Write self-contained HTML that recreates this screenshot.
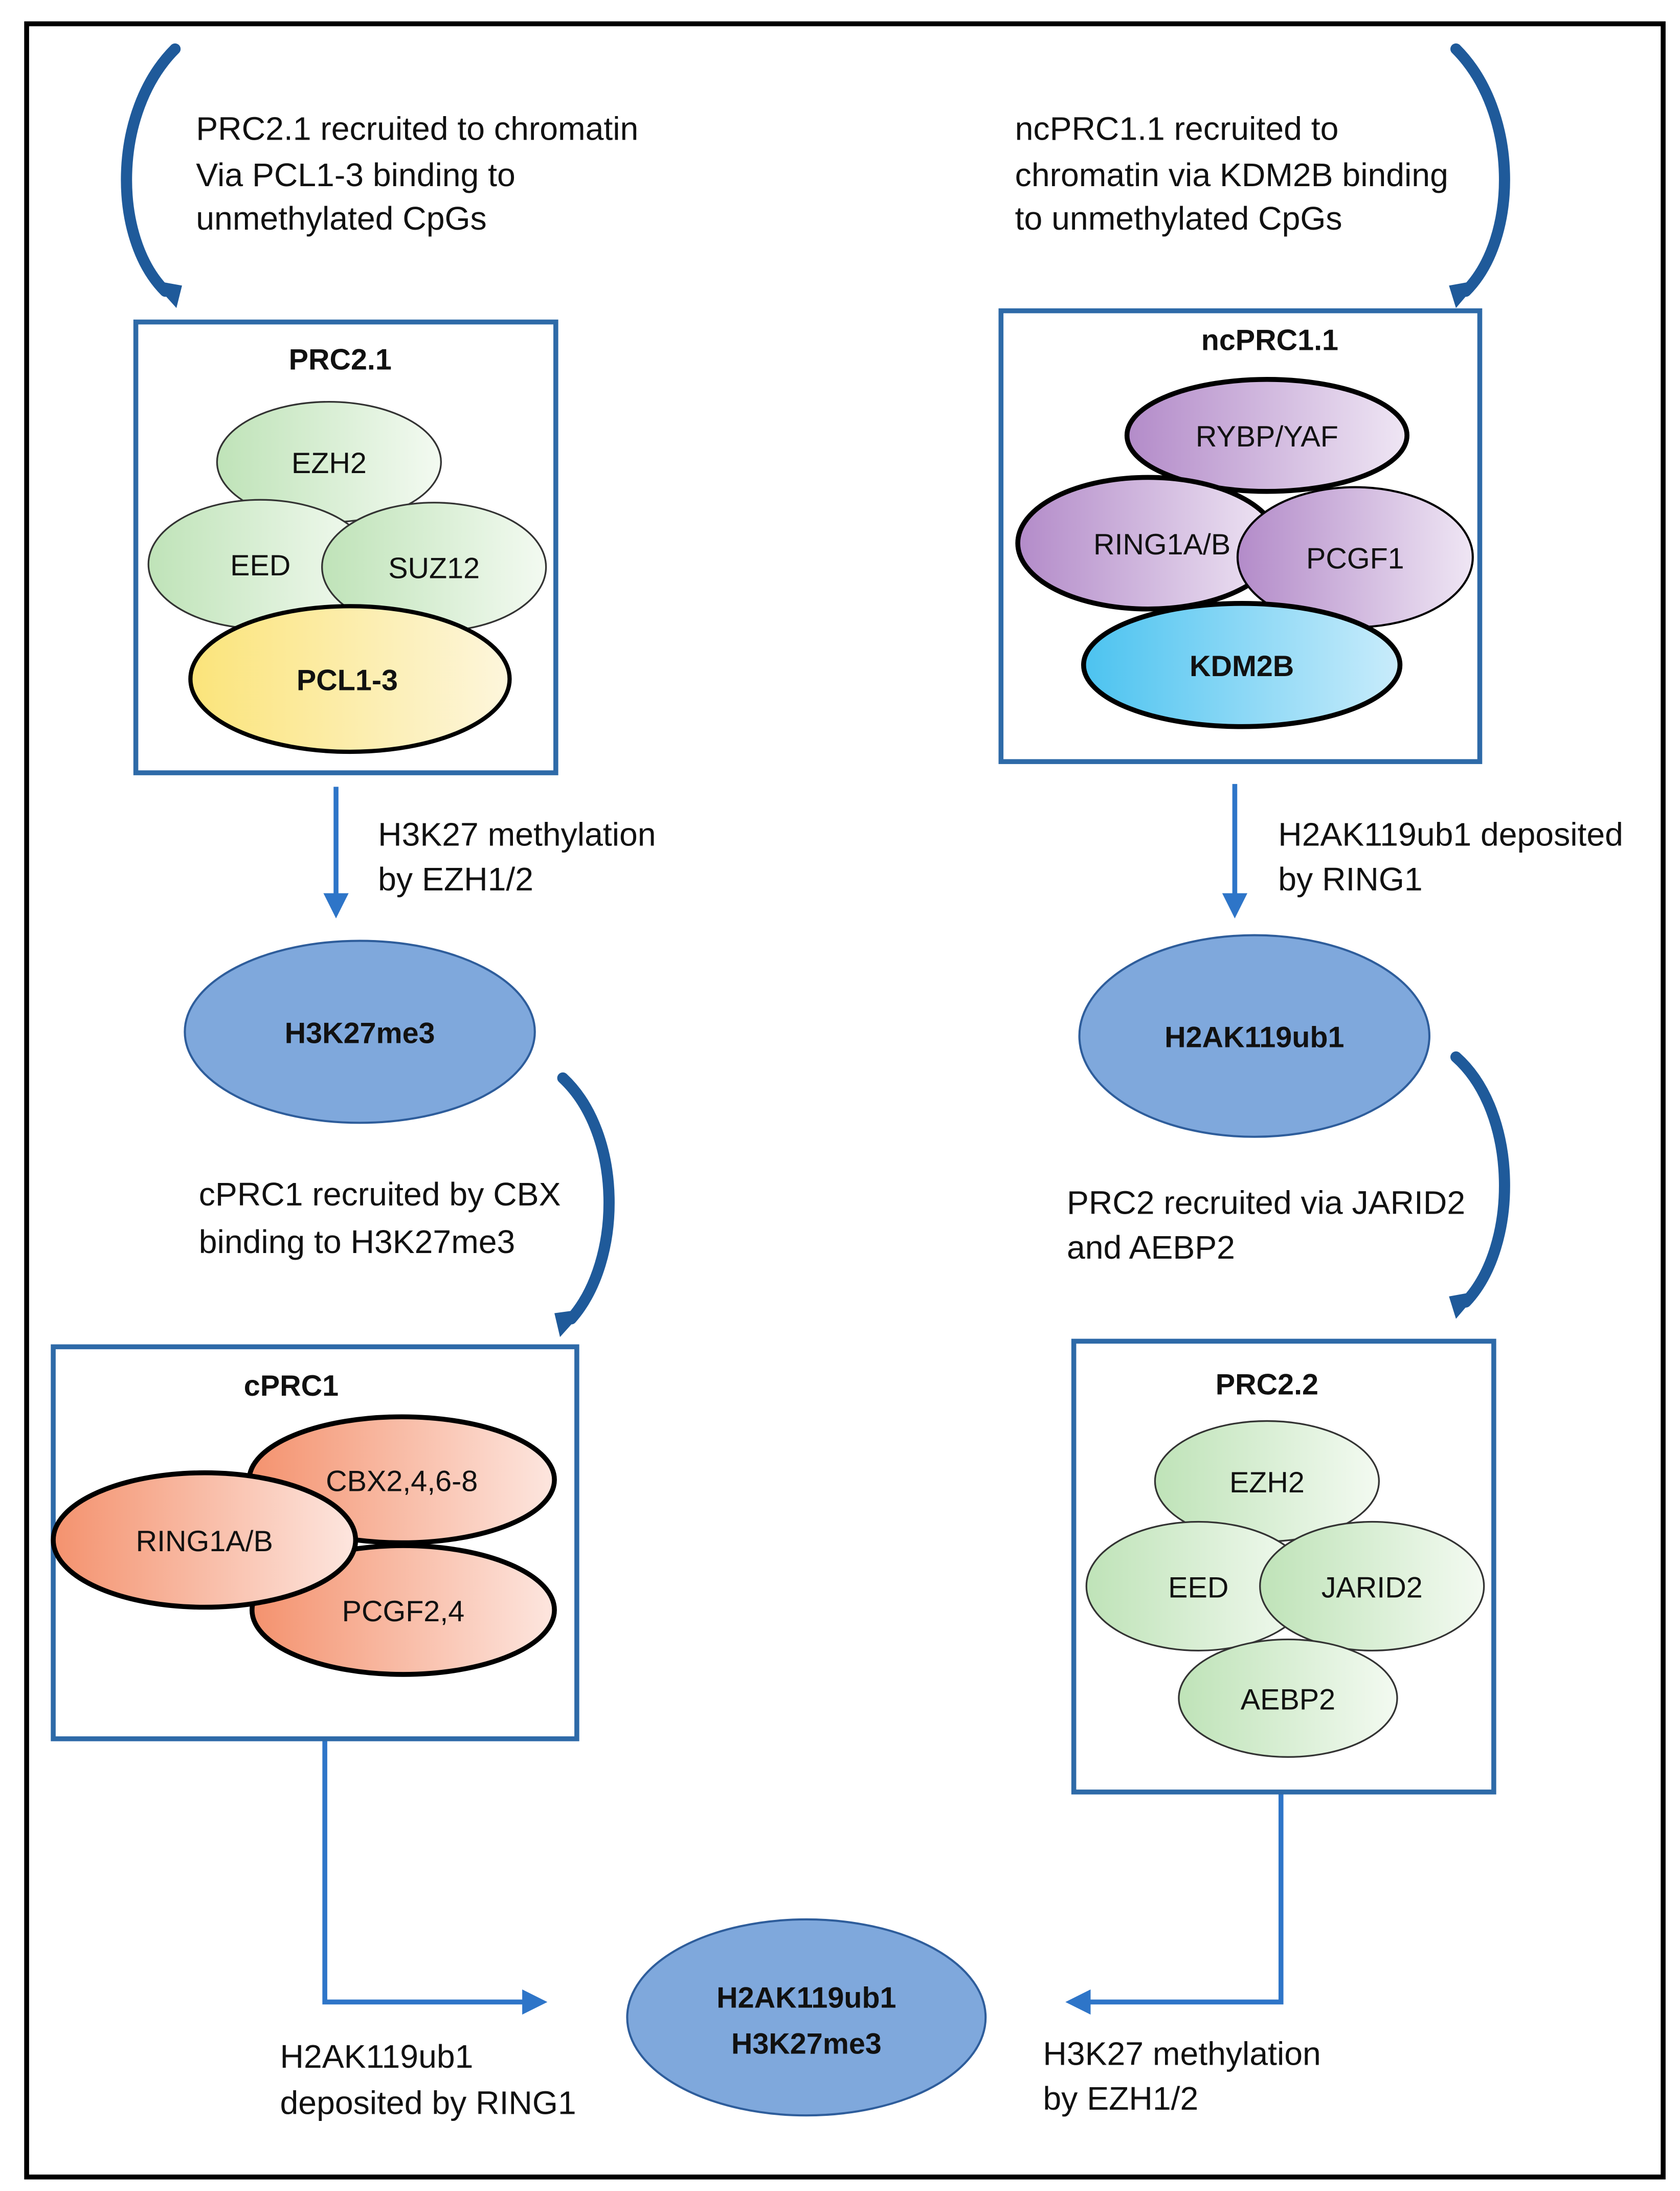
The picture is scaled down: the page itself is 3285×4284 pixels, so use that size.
<!DOCTYPE html>
<html><head><meta charset="utf-8"><style>
html,body{margin:0;padding:0;background:#fff}
svg{display:block}
text{font-family:"Liberation Sans",sans-serif;fill:#111}
</style></head><body>
<svg width="3285" height="4284" viewBox="0 0 1200 1565" xmlns="http://www.w3.org/2000/svg">
<defs>
<linearGradient id="g" x1="0" y1="0" x2="1" y2="0"><stop offset="0" stop-color="#bfe3b8"/><stop offset="1" stop-color="#f3faf1"/></linearGradient>
<linearGradient id="y" x1="0" y1="0" x2="1" y2="0"><stop offset="0" stop-color="#fbe47a"/><stop offset="1" stop-color="#fdf6dc"/></linearGradient>
<linearGradient id="p" x1="0" y1="0" x2="1" y2="0"><stop offset="0" stop-color="#b38bc9"/><stop offset="1" stop-color="#efe6f4"/></linearGradient>
<linearGradient id="b" x1="0" y1="0" x2="1" y2="0"><stop offset="0" stop-color="#4cc3f0"/><stop offset="1" stop-color="#c9ecfb"/></linearGradient>
<linearGradient id="s" x1="0" y1="0" x2="1" y2="0"><stop offset="0" stop-color="#f4926e"/><stop offset="1" stop-color="#fde6df"/></linearGradient>
</defs>
<rect x="19" y="17" width="1169" height="1538" fill="none" stroke="#000" stroke-width="3.5"/>

<g fill="none" stroke="#1f5a9a" stroke-linecap="round">
<path d="M125,35 C80,80 80,170 118,208" stroke-width="8"/>
<path d="M1040,35 C1085,80 1085,170 1047,208" stroke-width="8"/>
<path d="M402,770 C445,810 445,900 408,942" stroke-width="8"/>
<path d="M1040,755 C1085,795 1085,890 1047,930" stroke-width="8"/>
</g>
<g fill="#1f5a9a">
<path d="M108,200 L130,204 L126,220 z"/>
<path d="M1057,200 L1035,204 L1040,220 z"/>
<path d="M418,935 L396,938 L400,955 z"/>
<path d="M1057,922 L1035,926 L1040,942 z"/>
</g>

<g font-size="23.5">
<text x="140" y="100">PRC2.1 recruited to chromatin</text>
<text x="140" y="133">Via PCL1-3 binding  to</text>
<text x="140" y="164">unmethylated CpGs</text>
<text x="725" y="100">ncPRC1.1  recruited to</text>
<text x="725" y="133">chromatin via KDM2B binding</text>
<text x="725" y="164">to unmethylated CpGs</text>
<text x="270" y="604">H3K27 methylation</text>
<text x="270" y="636"> by EZH1/2</text>
<text x="913" y="604">H2AK119ub1 deposited</text>
<text x="913" y="636"> by RING1</text>
<text x="142" y="861">cPRC1 recruited by CBX</text>
<text x="142" y="895">binding to H3K27me3</text>
<text x="762" y="867">PRC2 recruited via JARID2</text>
<text x="762" y="899">and AEBP2</text>
<text x="200" y="1477">H2AK119ub1</text>
<text x="200" y="1510">deposited by RING1</text>
<text x="745" y="1475">H3K27 methylation</text>
<text x="745" y="1507"> by EZH1/2</text>
</g>

<rect x="97" y="230" width="300" height="322" fill="none" stroke="#2e6aa8" stroke-width="3.5"/>
<text x="243" y="264" font-size="21" font-weight="bold" text-anchor="middle">PRC2.1</text>
<g stroke="#333" stroke-width="1.2" fill="url(#g)">
<ellipse cx="235" cy="330" rx="80" ry="43"/>
<ellipse cx="186" cy="403" rx="80" ry="46"/>
<ellipse cx="310" cy="405" rx="80" ry="46"/>
</g>
<ellipse cx="250" cy="485" rx="114" ry="52" fill="url(#y)" stroke="#000" stroke-width="3"/>
<g font-size="21" text-anchor="middle">
<text x="235" y="338">EZH2</text><text x="186" y="411">EED</text><text x="310" y="413">SUZ12</text>
<text x="248" y="493" font-weight="bold">PCL1-3</text>
</g>

<rect x="715" y="222" width="342" height="322" fill="none" stroke="#2e6aa8" stroke-width="3.5"/>
<text x="907" y="250" font-size="21" font-weight="bold" text-anchor="middle">ncPRC1.1</text>
<g stroke="#000" stroke-width="3.5" fill="url(#p)">
<ellipse cx="905" cy="311" rx="100" ry="40"/>
<ellipse cx="820" cy="388" rx="93" ry="47"/>
<ellipse cx="968" cy="398" rx="84" ry="50" stroke-width="1.5"/>
</g>
<ellipse cx="887" cy="475" rx="113" ry="44" fill="url(#b)" stroke="#000" stroke-width="3.5"/>
<g font-size="21" text-anchor="middle">
<text x="905" y="319">RYBP/YAF</text><text x="830" y="396">RING1A/B</text><text x="968" y="406">PCGF1</text>
<text x="887" y="483" font-weight="bold">KDM2B</text>
</g>

<g stroke="#2e75c8" stroke-width="3.5" fill="none">
<line x1="240" y1="562" x2="240" y2="640"/>
<line x1="882" y1="560" x2="882" y2="640"/>
<polyline points="232,1242 232,1430 375,1430"/>
<polyline points="915,1280 915,1430 777,1430"/>
</g>
<g fill="#2e75c8">
<path d="M231,638 L249,638 L240,656 z"/>
<path d="M873,638 L891,638 L882,656 z"/>
<path d="M373,1421 L373,1439 L391,1430 z"/>
<path d="M779,1421 L779,1439 L761,1430 z"/>
</g>

<g fill="#7fa8dc" stroke="#2e5d9b" stroke-width="1.5">
<ellipse cx="257" cy="737" rx="125" ry="65"/>
<ellipse cx="896" cy="740" rx="125" ry="72"/>
<ellipse cx="576" cy="1441" rx="128" ry="70"/>
</g>
<g font-size="21" font-weight="bold" text-anchor="middle">
<text x="257" y="745">H3K27me3</text>
<text x="896" y="748">H2AK119ub1</text>
<text x="576" y="1434">H2AK119ub1</text>
<text x="576" y="1467">H3K27me3</text>
</g>

<rect x="38" y="962" width="374" height="280" fill="none" stroke="#2e6aa8" stroke-width="3.5"/>
<text x="208" y="997" font-size="21" font-weight="bold" text-anchor="middle">cPRC1</text>
<g stroke="#000" stroke-width="3.5" fill="url(#s)">
<ellipse cx="287" cy="1057" rx="109" ry="45"/>
<ellipse cx="288" cy="1150" rx="108" ry="46"/>
<ellipse cx="146" cy="1100" rx="108" ry="48"/>
</g>
<g font-size="21" text-anchor="middle">
<text x="287" y="1065">CBX2,4,6-8</text><text x="288" y="1158">PCGF2,4</text><text x="146" y="1108">RING1A/B</text>
</g>

<rect x="767" y="958" width="300" height="322" fill="none" stroke="#2e6aa8" stroke-width="3.5"/>
<text x="905" y="996" font-size="21" font-weight="bold" text-anchor="middle">PRC2.2</text>
<g stroke="#333" stroke-width="1.2" fill="url(#g)">
<ellipse cx="905" cy="1058" rx="80" ry="43"/>
<ellipse cx="856" cy="1133" rx="80" ry="46"/>
<ellipse cx="980" cy="1133" rx="80" ry="46"/>
<ellipse cx="920" cy="1213" rx="78" ry="42"/>
</g>
<g font-size="21" text-anchor="middle">
<text x="905" y="1066">EZH2</text><text x="856" y="1141">EED</text><text x="980" y="1141">JARID2</text><text x="920" y="1221">AEBP2</text>
</g>
</svg>
</body></html>
